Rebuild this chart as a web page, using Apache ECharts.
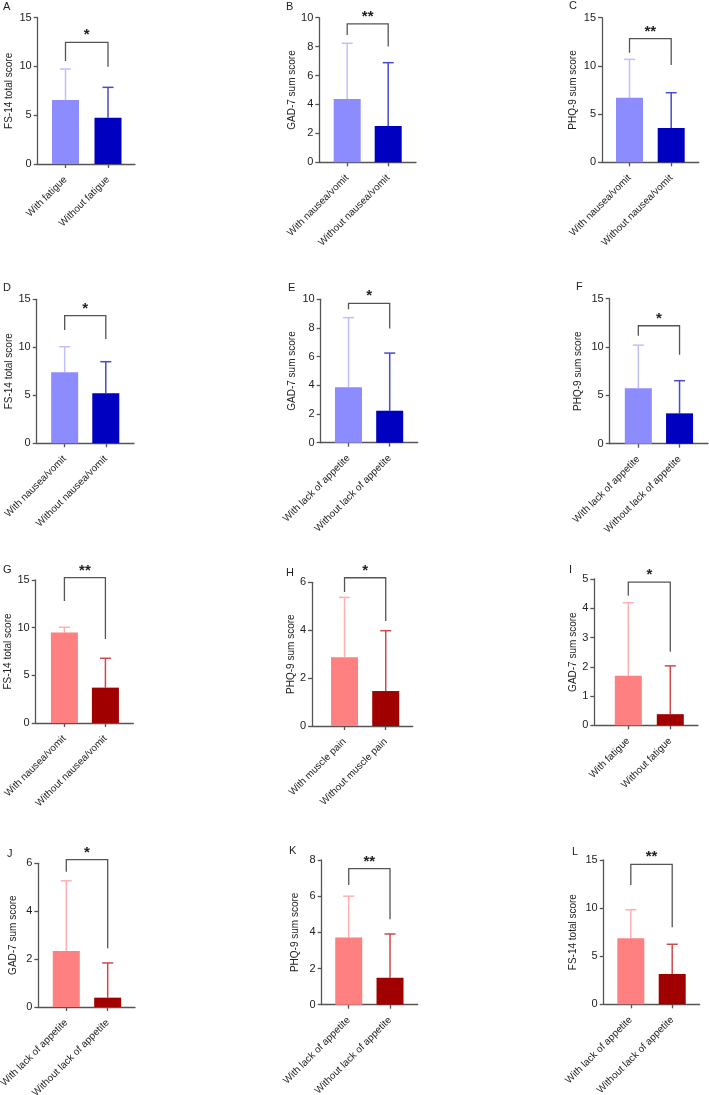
<!DOCTYPE html>
<html>
<head>
<meta charset="utf-8">
<script src="https://cdn.jsdelivr.net/npm/echarts@6/dist/echarts.min.js"></script>
<style>
html,body{margin:0;padding:0;background:#fff}
#main{width:709px;height:1095px}
</style>
</head>
<body>
<div id="main"></div>
<script>
var panelLetters = ['A','B','C','D','E','F','G','H','I','J','K','L'];
var yAxisNames = ['FS-14 total score','GAD-7 sum score','PHQ-9 sum score',
    'FS-14 total score','GAD-7 sum score','PHQ-9 sum score',
    'FS-14 total score','PHQ-9 sum score','GAD-7 sum score',
    'GAD-7 sum score','PHQ-9 sum score','FS-14 total score'];
var yMaxes = [15, 10, 15, 15, 10, 15, 15, 6, 5, 6, 8, 15];
var yIntervals = [5, 2, 5, 5, 2, 5, 5, 2, 1, 2, 2, 5];
var groupNames = [
    ['With fatigue', 'Without fatigue'],
    ['With nausea/vomit', 'Without nausea/vomit'],
    ['With nausea/vomit', 'Without nausea/vomit'],
    ['With nausea/vomit', 'Without nausea/vomit'],
    ['With lack of appetite', 'Without lack of appetite'],
    ['With lack of appetite', 'Without lack of appetite'],
    ['With nausea/vomit', 'Without nausea/vomit'],
    ['With muscle pain', 'Without muscle pain'],
    ['With fatigue', 'Without fatigue'],
    ['With lack of appetite', 'Without lack of appetite'],
    ['With lack of appetite', 'Without lack of appetite'],
    ['With lack of appetite', 'Without lack of appetite']
];
// mean values
var barMeans = [
    [6.56, 4.75], [4.38, 2.51], [6.70, 3.56],
    [7.40, 5.21], [3.86, 2.23], [5.73, 3.14],
    [9.48, 3.71], [2.87, 1.46], [1.69, 0.38],
    [2.34, 0.39], [3.71, 1.49], [6.86, 3.15]
];
// top of error bars (mean + SD)
var errTops = [
    [9.74, 7.86], [8.23, 6.89], [10.68, 7.22],
    [10.06, 8.50], [8.72, 6.25], [10.2, 6.52],
    [10.04, 6.79], [5.37, 3.98], [4.19, 2.03],
    [5.27, 1.84], [6.0, 3.91], [9.83, 6.24]
];
// significance bracket: [height, left leg end, right leg end]
var brackets = [
    [12.48, 10.56, 9.98], [9.57, 8.80, 8.0], [12.82, 11.37, 10.09],
    [13.3, 11.8, 10.86], [9.72, 9.30, 7.97], [12.2, 11.17, 9.2],
    [15.25, 12.8, 8.8], [6.19, 5.6, 4.38], [4.89, 4.43, 2.51],
    [6.15, 5.65, 2.45], [7.52, 6.62, 4.72], [14.55, 12.4, 8.0]
];
var stars = ['*','**','**','*','*','*','**','*','*','*','**','**'];

var blueBars = ['#8c8cff', '#0000c0'];
var blueErr = ['#c0c0ff', '#4a4ac8'];
var redBars = ['#ff8080', '#a00000'];
var redErr = ['#ffb0b0', '#cc4a4a'];

// left, top, width, height, xMin, xMax, nameGap
var boxes = [
    [37.7, 17.7, 97.3, 146.3, -0.654, 1.635, 23],
    [319.3, 17.7, 96.7, 144.6, -0.68, 1.678, 16],
    [602, 17.7, 96.7, 144.6, -0.66, 1.66, 24],
    [36.7, 299.3, 97.3, 144, -0.68, 1.686, 22],
    [320.7, 299.3, 97, 143.4, -0.675, 1.68, 23],
    [609.7, 298.7, 98.3, 145, -0.694, 1.69, 26],
    [35.7, 580, 97.6, 143, -0.70, 1.68, 22],
    [312, 582.3, 100.7, 143.7, -0.79, 1.655, 15],
    [594.3, 579, 103.7, 146.3, -0.81, 1.66, 15],
    [38.3, 863.3, 96.7, 143.7, -0.676, 1.66, 20],
    [321.7, 860, 96, 144.7, -0.654, 1.67, 21],
    [603.7, 860, 96, 144.3, -0.655, 1.664, 25]
];
var letterPos = [[3,1],[286,1],[569,0],[3,282],[288,282],[576,281],[3,564],[286,567],[569,564],[7,848],[289,845],[572,846]];

var font = 'Liberation Sans';
var axisColor = '#555';
var grid = [], xAxis = [], yAxis = [], series = [], graphic = [];

for (var i = 0; i < 12; i++) {
    var b = boxes[i];
    var barCol = i < 6 ? blueBars : redBars;
    var errCol = i < 6 ? blueErr : redErr;
    grid.push({left: b[0], top: b[1], width: b[2], height: b[3], outerBoundsMode: 'none'});
    (function (names) {
        xAxis.push({
            gridIndex: i, type: 'value', min: b[4], max: b[5],
            axisLine: {show: true, onZero: false, lineStyle: {color: axisColor, width: 1.3}},
            axisTick: {show: true, customValues: [0, 1], length: 4, lineStyle: {color: axisColor, width: 1.3}},
            axisLabel: {
                customValues: [0, 1], rotate: 45, margin: 14,
                fontFamily: font, fontSize: 10, color: '#222',
                formatter: function (v) { return names[Math.round(v)]; }
            },
            splitLine: {show: false}
        });
    })(groupNames[i]);
    yAxis.push({
        gridIndex: i, type: 'value', min: 0, max: yMaxes[i], interval: yIntervals[i],
        name: yAxisNames[i], nameLocation: 'middle', nameGap: b[6],
        nameTextStyle: {fontFamily: font, fontSize: 10, color: '#222'},
        axisLine: {show: true, onZero: false, lineStyle: {color: axisColor, width: 1.3}},
        axisTick: {show: true, length: 4, lineStyle: {color: axisColor, width: 1.3}},
        axisLabel: {margin: 6, fontFamily: font, fontSize: 11, color: '#222'},
        splitLine: {show: false}
    });
    series.push({
        type: 'bar', xAxisIndex: i, yAxisIndex: i, barWidth: 27,
        data: [
            {value: [0, barMeans[i][0]], itemStyle: {color: barCol[0]}},
            {value: [1, barMeans[i][1]], itemStyle: {color: barCol[1]}}
        ]
    });
    (function (errCol) {
        series.push({
            type: 'custom', xAxisIndex: i, yAxisIndex: i,
            encode: {x: 0, y: [1, 2]},
            data: [[0, barMeans[i][0], errTops[i][0]], [1, barMeans[i][1], errTops[i][1]]],
            renderItem: function (params, api) {
                var x = api.value(0);
                var p0 = api.coord([x, api.value(1)]);
                var p1 = api.coord([x, api.value(2)]);
                var c = errCol[params.dataIndex];
                return {type: 'group', children: [
                    {type: 'line', shape: {x1: p0[0], y1: p0[1], x2: p1[0], y2: p1[1]}, style: {stroke: c, lineWidth: 1.5}},
                    {type: 'line', shape: {x1: p1[0] - 5.5, y1: p1[1], x2: p1[0] + 5.5, y2: p1[1]}, style: {stroke: c, lineWidth: 1.5}}
                ]};
            }
        });
    })(errCol);
    (function (star) {
        series.push({
            type: 'custom', xAxisIndex: i, yAxisIndex: i, clip: false,
            encode: {x: [0, 1], y: [2, 3, 4]},
            data: [[0, 1, brackets[i][0], brackets[i][1], brackets[i][2]]],
            renderItem: function (params, api) {
                var a = api.coord([api.value(0), api.value(3)]);
                var t1 = api.coord([api.value(0), api.value(2)]);
                var t2 = api.coord([api.value(1), api.value(2)]);
                var d = api.coord([api.value(1), api.value(4)]);
                return {type: 'group', children: [
                    {type: 'polyline', shape: {points: [a, t1, t2, d]}, style: {stroke: axisColor, lineWidth: 1.3, fill: null}},
                    {type: 'text', style: {
                        text: star, x: (t1[0] + t2[0]) / 2, y: t1[1] - 7,
                        align: 'center', verticalAlign: 'middle',
                        font: 'bold 15px ' + font, fill: '#222'
                    }}
                ]};
            }
        });
    })(stars[i]);
    graphic.push({
        type: 'text', left: letterPos[i][0], top: letterPos[i][1],
        style: {text: panelLetters[i], font: '11px ' + font, fill: '#222'}
    });
}

var chart = echarts.init(document.getElementById('main'), null, {renderer: 'canvas'});
chart.setOption({
    animation: false,
    backgroundColor: '#fff',
    grid: grid,
    xAxis: xAxis,
    yAxis: yAxis,
    series: series,
    graphic: graphic
});
</script>
</body>
</html>
